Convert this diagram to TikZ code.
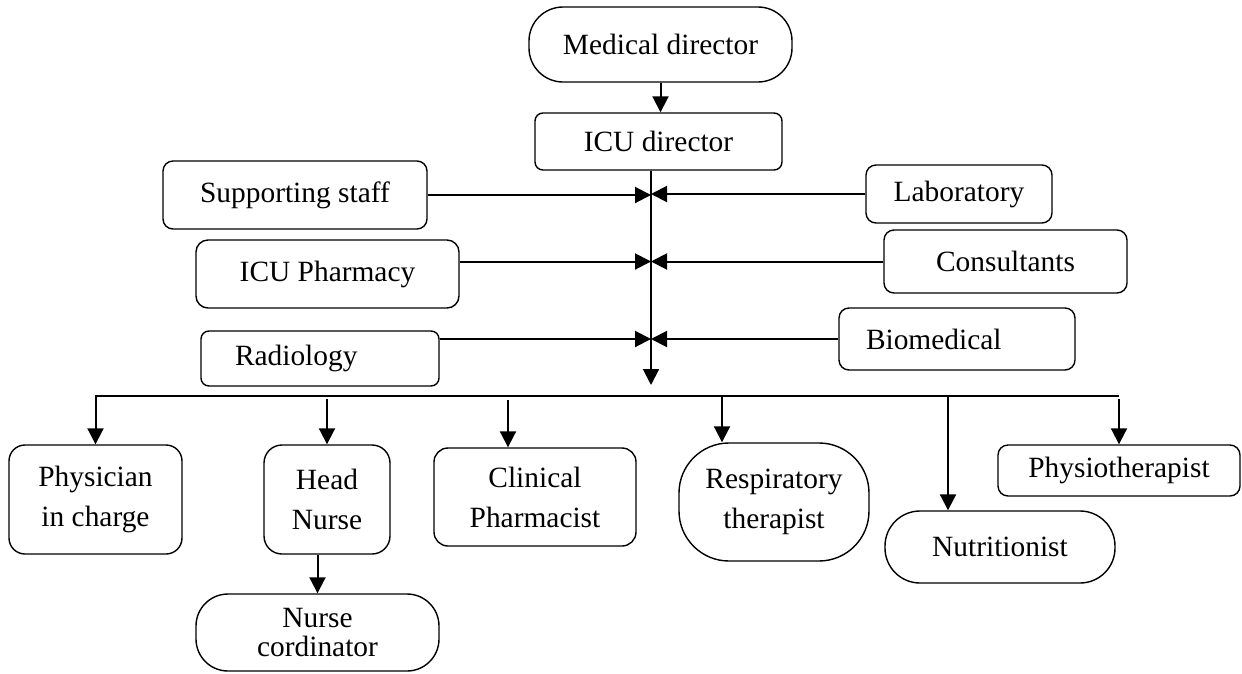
\documentclass[tikz,border=0pt]{standalone}
\usepackage{fontspec}
\setmainfont{Liberation Serif}
\usetikzlibrary{arrows.meta}
\tikzstyle{office}=[rectangle, draw, line width=1.4pt, inner sep=0pt, align=center, font=\fontsize{29.4}{40}\selectfont]
\tikzset{dims/.style 2 args={minimum width=#1pt, minimum height=#2pt}}
\newcommand{\office}{\node[office]}

\begin{document}
\begin{tikzpicture}[x=1pt, y=-1pt
    ,link/.style={draw, line width=2pt, -{Triangle[length=16pt, width=16pt]}}
]
\useasboundingbox (0,0) rectangle (1242,673);
\office[dims={263}{75}, rounded corners=34pt] (md) at (660.5,44.5) {Medical director};
\office[dims={247}{57}, rounded corners=8pt] (icu) at (658.5,141.5) {ICU director};
\office[dims={264}{68}, rounded corners=10pt] (ss) at (295,195) {Supporting staff};
\office[dims={263}{68}, rounded corners=12pt] (ph) at (327.5,274) {ICU Pharmacy};
\office[dims={238}{55}, rounded corners=8pt, text width=170pt, align=left] (rad) at (320,358.5) {Radiology};
\office[dims={186}{58}, rounded corners=10pt] (lab) at (959,194) {Laboratory};
\office[dims={243}{63}, rounded corners=10pt] (cons) at (1005.5,261.5) {Consultants};
\office[dims={236}{62}, rounded corners=10pt, text width=182pt, align=left] (bio) at (957,339) {Biomedical};
\office[dims={173}{109}, rounded corners=16pt] (pc) at (95.5,499.5) {Physician\\in charge};
\office[dims={126}{109}, rounded corners=18pt] (hn) at (327,499.5) {Head\\Nurse};
\office[dims={243}{77}, rounded corners=32pt, font=\fontsize{29.4}{29}\selectfont] (nc) at (317.5,632.5) {Nurse\\cordinator};
\office[dims={202}{98}, rounded corners=14pt] (cp) at (535,497) {Clinical\\Pharmacist};
\office[dims={190}{118}, rounded corners=50pt] (rt) at (774,502) {Respiratory\\therapist};
\office[dims={230}{72}, rounded corners=35pt] (nu) at (1000,547) {Nutritionist};
\office[dims={242}{51}, rounded corners=10pt] (pt) at (1119,470.5) {Physiotherapist};

\coordinate (hub) at (651,385);
\coordinate (bus) at (0,396);
\coordinate (cpdrop) at (508,396);
\coordinate (rtdrop) at (722,396);
\coordinate (nudrop) at (948,396);

\path[link] (md.south) -- (md.south |- icu.north);
\path[link] (icu.south -| hub) -- (hub);
\path[link] (ss.east) -- (hub |- ss.east);
\path[link] (lab.west) -- (hub |- lab.west);
\path[link] (ph.east |- cons.west) -- (hub |- cons.west);
\path[link] (cons.west) -- (hub |- cons.west);
\path[link] (rad.east |- bio.west) -- (hub |- bio.west);
\path[link] (bio.west) -- (hub |- bio.west);

\path[link] (bus -| pt.north) -- (bus -| pc.north) -- (pc.north);
\path[link] ([yshift=-3pt]bus -| hn.north) -- (hn.north);
\path[link] ([yshift=-4pt]cpdrop) -- (cpdrop |- cp.north);
\path[link] (rtdrop) -- (rtdrop |- rt.north);
\path[link] (nudrop) -- (nudrop |- nu.north);
\path[link] ([yshift=-3pt]bus -| pt.north) -- (pt.north);
\path[link] (hn.south -| nc.north) -- (nc.north);
\end{tikzpicture}
\end{document}
